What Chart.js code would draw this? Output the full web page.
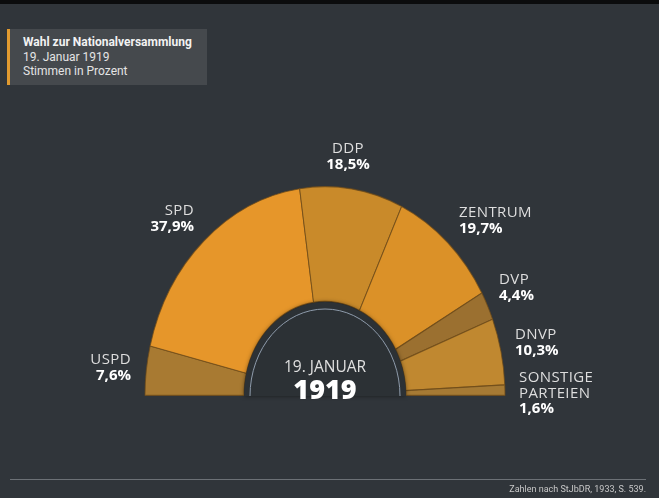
<!DOCTYPE html>
<html>
<head>
<meta charset="utf-8">
<script src="https://cdn.jsdelivr.net/npm/chart.js@4"></script>
<style>
  html, body { margin: 0; padding: 0; }
  body { width: 659px; height: 498px; background: #30353a; position: relative; overflow: hidden; font-family: "Open Sans", sans-serif; }
  #topbar { position: absolute; left: 0; top: 0; width: 659px; height: 4px; background: #0b0c0d; }
  #header { position: absolute; left: 7px; top: 29px; width: 200px; height: 56px; background: #45494d; border-left: 3px solid #e09a30; box-sizing: border-box; padding: 6px 0 0 13px; color: #e4e4e4; font-family: Roboto, sans-serif; font-size: 12px; line-height: 14.5px; }
  #header b { color: #f2f2f2; }
  #wrap { position: absolute; left: 0; top: 0; width: 659px; height: 498px; }
  .lbl { position: absolute; color: #dedede; font-size: 15px; line-height: 15.5px; white-space: nowrap; letter-spacing: 0.4px; }
  .lbl b { color: #ffffff; font-weight: 700; letter-spacing: 0; }
  #footline { position: absolute; left: 10px; top: 479px; width: 636px; height: 1px; background: #6c7176; }
  #foot { position: absolute; right: 13px; top: 484px; color: #c8c8c8; font-family: Roboto, sans-serif; font-size: 9px; }
</style>
</head>
<body>
<div id="topbar"></div>
<div id="header"><b>Wahl zur Nationalversammlung</b><br>19. Januar 1919<br>Stimmen in Prozent</div>
<div id="wrap"><canvas id="chart" width="659" height="498"></canvas></div>
<div id="labels"></div>
<div style="position:absolute; left:225px; top:355px; width:200px; text-align:center; color:#e0e0e0; font-size:15.5px;">19. JANUAR</div>
<div style="position:absolute; left:225px; top:370px; width:200px; text-align:center; color:#fff; font-weight:800; font-size:27px;">1919</div>
<div id="footline"></div>
<div id="foot">Zahlen nach StJbDR, 1933, S. 539.</div>
<script>
// Wahl zur Nationalversammlung, 19.1.1919 (Stimmen in Prozent)
const parties = ["USPD", "SPD", "DDP", "ZENTRUM", "DVP", "DNVP", "SONSTIGE PARTEIEN"];
const shares = [7.6, 37.9, 18.5, 19.7, 4.4, 10.3, 1.6];
const colors = ["#a87a32", "#e6962a", "#c98a2a", "#db9128", "#9b7030", "#c08830", "#a67a34"];

// label anchor (x, top, align) for each party
const labelPos = [
  [131, 351, "right"],
  [194, 202, "right"],
  [348, 140, "center"],
  [459, 204, "left"],
  [499, 271, "left"],
  [515, 326, "left"],
  [519, 369, "left"]
];

const cx = 325, cy = 396, yStretch = 1.16;

const labelsDiv = document.getElementById("labels");
parties.forEach((p, i) => {
  const d = document.createElement("div");
  d.className = "lbl";
  const pct = shares[i].toFixed(1).replace(".", ",") + "%";
  d.innerHTML = p.split(" ").join("<br>") + "<br><b>" + pct + "</b>";
  const [x, y, al] = labelPos[i];
  d.style.top = y + "px";
  d.style.textAlign = al;
  if (al == "right") d.style.right = (659 - x) + "px";
  else if (al == "center") { d.style.left = (x - 60) + "px"; d.style.width = "120px"; }
  else d.style.left = x + "px";
  labelsDiv.appendChild(d);
});

const stretch = {
  id: "stretch",
  beforeDatasetsDraw(chart) {
    const ctx = chart.ctx;
    ctx.save();
    ctx.translate(cx, cy);
    ctx.scale(1, yStretch);
    ctx.translate(-cx, -cy);
  },
  afterDatasetsDraw(chart) {
    const ctx = chart.ctx;
    const arc = chart.getDatasetMeta(0).data[0];
    const r = arc.innerRadius;
    // inner hole
    ctx.beginPath();
    ctx.arc(cx, cy, r, Math.PI, 2 * Math.PI);
    ctx.closePath();
    ctx.fillStyle = "#2c3135";
    ctx.shadowColor = "rgba(0,0,0,0.5)";
    ctx.shadowBlur = 4;
    ctx.fill();
    ctx.shadowBlur = 0;
    ctx.beginPath();
    ctx.arc(cx, cy, r - 6, Math.PI, 2 * Math.PI);
    ctx.restore();
    ctx.strokeStyle = "#8e9bab";
    ctx.lineWidth = 1;
    ctx.stroke();
  }
};

new Chart(document.getElementById("chart"), {
  type: "doughnut",
  data: {
    labels: parties,
    datasets: [{
      data: shares,
      backgroundColor: colors,
      borderColor: "rgba(110,75,25,0.75)",
      borderWidth: 1
    }]
  },
  options: {
    responsive: false,
    animation: false,
    rotation: -90,
    circumference: 180,
    cutout: "45%",
    layout: { padding: { left: 144, right: 153, top: 215, bottom: 102 } },
    plugins: { legend: { display: false }, tooltip: { enabled: false } }
  },
  plugins: [stretch]
});
</script>
</body>
</html>
